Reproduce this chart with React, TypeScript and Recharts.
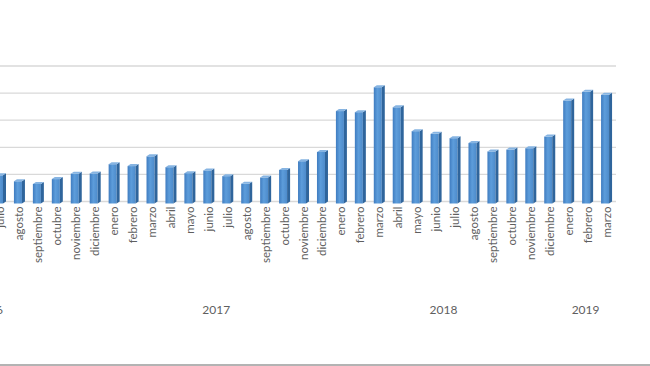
import React from 'react';
import { BarChart, Bar, XAxis, YAxis, CartesianGrid } from 'recharts';

const MONTHS: string[] = [
  'julio', 'agosto', 'septiembre', 'octubre', 'noviembre', 'diciembre',
  'enero', 'febrero', 'marzo', 'abril', 'mayo', 'junio', 'julio', 'agosto', 'septiembre', 'octubre', 'noviembre', 'diciembre',
  'enero', 'febrero', 'marzo', 'abril', 'mayo', 'junio', 'julio', 'agosto', 'septiembre', 'octubre', 'noviembre', 'diciembre',
  'enero', 'febrero', 'marzo',
];
const YEAR_OF: string[] = [
  '2016', '2016', '2016', '2016', '2016', '2016',
  '2017', '2017', '2017', '2017', '2017', '2017', '2017', '2017', '2017', '2017', '2017', '2017',
  '2018', '2018', '2018', '2018', '2018', '2018', '2018', '2018', '2018', '2018', '2018', '2018',
  '2019', '2019', '2019',
];
// months of each year that lie before the first visible category (cropped off the left edge)
const HIDDEN_BEFORE: Record<string, number> = { '2016': 6, '2017': 0, '2018': 0, '2019': 0 };
const VALUES: number[] = [
  10.4, 8.2, 7.2, 9.0, 11.0, 11.1,
  14.5, 13.8, 17.4, 13.4, 11.2, 12.2, 10.1, 7.3, 9.6, 12.4, 15.6, 19.0,
  34.1, 33.7, 42.9, 35.5, 26.7, 25.7, 24.1, 22.3, 19.2, 19.9, 20.4, 24.7,
  38.0, 41.2, 40.1,
];
const Y_TICKS: number[] = [0, 10, 20, 30, 40, 50];

const data = MONTHS.map((m, i) => ({ key: `${YEAR_OF[i]}-${i}`, month: m, year: YEAR_OF[i], value: VALUES[i] }));

const CHART_W = 700;
const CHART_H = 366;
const MARGIN = { top: 66, right: 44, left: 31, bottom: 0 };
const N = MONTHS.length;
const BAND = (CHART_W - MARGIN.left - MARGIN.right) / N;

const TEXT = '#5f5f5f';
const FONT = 'Lato, "Open Sans", sans-serif';

const Tick = (props: any) => {
  const { x, y, payload, index } = props;
  const i = typeof index === 'number' ? index : payload.index;
  const month = MONTHS[i];
  const year = YEAR_OF[i];
  const y0 = y - 3;
  const els: any[] = [
    <text
      key="m"
      x={x}
      y={y0}
      transform={`rotate(-90, ${x}, ${y0})`}
      textAnchor="end"
      dy="0.35em"
      fill={TEXT}
      fontSize={11.5}
      fontFamily={FONT}
    >
      {month}
    </text>,
  ];
  if (i === 0 || YEAR_OF[i - 1] !== year) {
    const hidden = HIDDEN_BEFORE[year] || 0;
    const count = YEAR_OF.filter((v) => v === year).length + hidden;
    const startIdx = i - hidden;
    const center = startIdx + (count - 1) / 2;
    const cx = x + (center - i) * BAND - 2;
    els.push(
      <text key="y" x={cx} y={y0 + 107} textAnchor="middle" fill={TEXT} fontSize={12} fontFamily={FONT}>
        {year}
      </text>
    );
  }
  return <g>{els}</g>;
};

const Bar3D = (props: any) => {
  const { x, y, width, height } = props;
  if (height <= 0) return null;
  const d = 3;
  const fw = width - d;
  const bottom = y + height + 2;
  return (
    <g>
      <rect x={x} y={y + 2} width={fw} height={bottom - y - 2} fill="url(#frontGrad)" />
      <polygon
        points={`${x + fw},${y + 2} ${x + width},${y} ${x + width},${bottom - 2} ${x + fw},${bottom}`}
        fill="#2f659c"
      />
      <polygon
        points={`${x},${y + 2} ${x + d},${y} ${x + width},${y} ${x + fw},${y + 2}`}
        fill="#86b4e2"
      />
    </g>
  );
};

export default function App() {
  return (
    <div style={{ position: 'absolute', left: 0, top: 0, width: 650, height: 366, overflow: 'hidden', background: '#fff' }}>
      <div style={{ position: 'absolute', left: -40, top: 0 }}>
        <BarChart width={CHART_W} height={CHART_H} data={data} margin={MARGIN}>
          <defs>
            <linearGradient id="frontGrad" x1="0" y1="0" x2="1" y2="0">
              <stop offset="0%" stopColor="#3f7cc0" />
              <stop offset="45%" stopColor="#5d9ddb" />
              <stop offset="100%" stopColor="#4d8bcb" />
            </linearGradient>
          </defs>
          <CartesianGrid vertical={false} stroke="#d9d9d9" strokeWidth={1.3} />
          <YAxis hide domain={[0, 50]} ticks={Y_TICKS} />
          <XAxis
            dataKey="key"
            axisLine={false}
            tickLine={false}
            interval={0}
            height={CHART_H - 201.5 - MARGIN.bottom}
            tick={<Tick />}
          />
          <Bar dataKey="value" barSize={11} shape={<Bar3D />} isAnimationActive={false} />
        </BarChart>
      </div>
      <div style={{ position: 'absolute', left: 0, top: 364, width: 650, height: 2, background: '#b3b3b3' }} />
    </div>
  );
}
